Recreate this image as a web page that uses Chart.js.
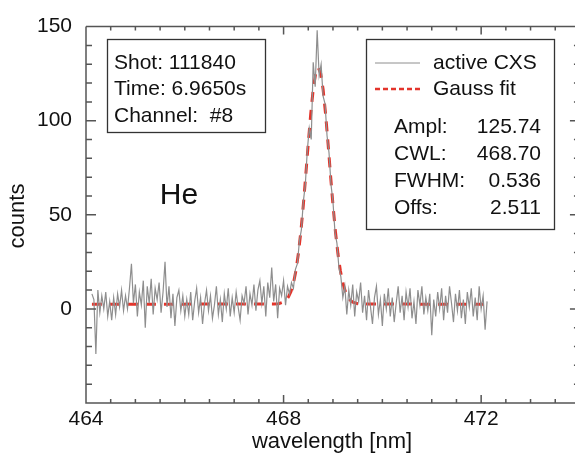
<!DOCTYPE html>
<html>
<head>
<meta charset="utf-8">
<script src="https://cdn.jsdelivr.net/npm/chart.js@4.4.1/dist/chart.umd.min.js"></script>
<style>
  html, body { margin: 0; padding: 0; background: #fff; }
  #plot { display: block; }
</style>
</head>
<body>
<canvas id="plot" width="575" height="454"></canvas>
<script>
// measured spectrum (wavelength in nm, counts)
const wavelength = [
  464.12, 464.16, 464.20, 464.24, 464.28, 464.32, 464.36, 464.40, 464.44, 464.48,
  464.52, 464.56, 464.60, 464.64, 464.68, 464.72, 464.76, 464.80, 464.84, 464.88,
  464.92, 464.96, 465.00, 465.04, 465.08, 465.12, 465.16, 465.20, 465.24, 465.28,
  465.32, 465.36, 465.40, 465.44, 465.48, 465.52, 465.56, 465.60, 465.64, 465.68,
  465.72, 465.76, 465.80, 465.84, 465.88, 465.92, 465.96, 466.00, 466.04, 466.08,
  466.12, 466.16, 466.20, 466.24, 466.28, 466.32, 466.36, 466.40, 466.44, 466.48,
  466.52, 466.56, 466.60, 466.64, 466.68, 466.72, 466.76, 466.80, 466.84, 466.88,
  466.92, 466.96, 467.00, 467.04, 467.08, 467.12, 467.16, 467.20, 467.24, 467.28,
  467.32, 467.36, 467.40, 467.44, 467.48, 467.52, 467.56, 467.60, 467.64, 467.68,
  467.72, 467.76, 467.80, 467.84, 467.88, 467.92, 467.96, 468.00, 468.04, 468.08,
  468.12, 468.16, 468.20, 468.24, 468.28, 468.32, 468.36, 468.40, 468.44, 468.48,
  468.52, 468.56, 468.60, 468.64, 468.68, 468.72, 468.76, 468.80, 468.84, 468.88,
  468.92, 468.96, 469.00, 469.04, 469.08, 469.12, 469.16, 469.20, 469.24, 469.28,
  469.32, 469.36, 469.40, 469.44, 469.48, 469.52, 469.56, 469.60, 469.64, 469.68,
  469.72, 469.76, 469.80, 469.84, 469.88, 469.92, 469.96, 470.00, 470.04, 470.08,
  470.12, 470.16, 470.20, 470.24, 470.28, 470.32, 470.36, 470.40, 470.44, 470.48,
  470.52, 470.56, 470.60, 470.64, 470.68, 470.72, 470.76, 470.80, 470.84, 470.88,
  470.92, 470.96, 471.00, 471.04, 471.08, 471.12, 471.16, 471.20, 471.24, 471.28,
  471.32, 471.36, 471.40, 471.44, 471.48, 471.52, 471.56, 471.60, 471.64, 471.68,
  471.72, 471.76, 471.80, 471.84, 471.88, 471.92, 471.96, 472.00, 472.04, 472.08,
  472.12
];
const counts = [
  8, 5, -24, 10, -2, 7, 0, 9, -4, 4,
  -6, 6, -3, 8, 1, 10, -1, 7, 0, 11,
  24, 3, 13, -4, 9, 2, 15, -10, 12, 3,
  16, -3, 11, 5, 14, -2, 9, 25, 1, 12,
  -5, 8, -9, 6, 10, -1, 7, -4, 5, -3,
  9, -6, 4, 11, -2, 6, -8, 3, 10, -1,
  7, -5, 2, 12, -3, 5, -7, 8, 0, 11,
  -4, 6, -2, 9, 1, -6, 7, 3, 12, -3,
  8, 2, 13, -1, 10, 15, 3, 12, -4, 14,
  6, 22, 4, 13, -5, 11, 7, 15, 2, 12,
  8, 14, 11, 21, 24, 36, 42, 57, 66, 84,
  96, 90, 131, 118, 148, 124, 130, 113, 109, 92,
  83, 66, 57, 41, 35, 22, 17, 6, 12, -3,
  10, 2, 13, -4, 9, 4, 14, -2, 7, -6,
  10, 1, -8, 6, 12, -3, 5, -9, 8, 0,
  11, -4, 6, -7, 3, 12, -2, 7, -6, 9,
  1, 11, -5, 4, -8, 10, 2, 12, -3, 6,
  -1, 8, -14, 5, -4, 9, 0, 11, -6, 7,
  -2, 12, 3, -7, 8, -1, 10, -5, 5, -8,
  9, 1, 11, -4, 6, -6, 12, 0, 7, -11,
  4
];

// gauss fit curve
const fitWavelength = [
  464.12, 467.80, 467.90, 468.00, 468.05, 468.10, 468.15, 468.20, 468.25, 468.30,
  468.35, 468.40, 468.45, 468.50, 468.55, 468.60, 468.65, 468.70, 468.75, 468.80,
  468.85, 468.90, 468.95, 469.00, 469.05, 469.10, 469.15, 469.20, 469.25, 469.30,
  469.35, 469.40, 469.50, 469.60, 472.12
];
const fitCounts = [
  2.51, 2.56, 2.77, 3.62, 4.64, 6.4, 9.3, 13.76, 20.3, 29.4,
  41.1, 55.2, 71.3, 88.0, 103.7, 116.7, 125.2, 128.25, 125.2, 116.7,
  103.7, 88.0, 71.3, 55.2, 41.1, 29.4, 20.3, 13.76, 9.3, 6.4,
  4.64, 3.62, 2.77, 2.56, 2.51
];

const xTicks = [464, 468, 472];
const yTicks = [0, 50, 100, 150];

const infoLines = ["Shot: 111840", "Time: 6.9650s", "Channel:  #8"];
const fitLabels = ["Ampl:", "CWL:", "FWHM:", "Offs:"];
const fitValues = ["125.74", "468.70", "0.536", "2.511"];

const FONT = '"Liberation Sans", Arial, Helvetica, sans-serif';
const AXIS_COLOR = '#555';
const DATA_GRAY = '#8e8e8e';
const FIT_RED = '#e3342b';

function toPoints(xs, ys) {
    return xs.map((x, i) => ({ x: x, y: ys[i] }));
}

// frame with inward major/minor ticks on all sides
const framePlugin = {
    id: 'frame',
    afterDatasetsDraw(chart) {
        const ctx = chart.ctx;
        const a = chart.chartArea;
        const xs = chart.scales.x;
        const ys = chart.scales.y;
        const right = xs.getPixelForValue(474);
        ctx.save();
        ctx.strokeStyle = AXIS_COLOR;
        ctx.lineWidth = 1.5;
        ctx.beginPath();
        ctx.moveTo(a.left, a.top);
        ctx.lineTo(a.left, a.bottom);
        ctx.lineTo(right, a.bottom);
        ctx.moveTo(a.left, a.top);
        ctx.lineTo(right, a.top);
        for (let v = 464; v <= 474.001; v += 0.5) {
            const px = xs.getPixelForValue(v);
            const len = (Math.abs(v % 4) < 0.001) ? 8 : 4;
            ctx.moveTo(px, a.bottom);
            ctx.lineTo(px, a.bottom - len);
            ctx.moveTo(px, a.top);
            ctx.lineTo(px, a.top + len);
        }
        for (let v = -50; v <= 150; v += 10) {
            const py = ys.getPixelForValue(v);
            const len = (v % 50 === 0) ? 10 : 6;
            ctx.moveTo(a.left, py);
            ctx.lineTo(a.left + len, py);
            ctx.moveTo(right, py);
            ctx.lineTo(right - len, py);
        }
        ctx.stroke();
        ctx.restore();
    }
};

// text boxes, legend and axis titles
const annotationPlugin = {
    id: 'annotations',
    afterDraw(chart) {
        const ctx = chart.ctx;
        ctx.save();
        ctx.fillStyle = '#111';
        ctx.strokeStyle = '#333';
        ctx.lineWidth = 1.3;
        ctx.font = '21px ' + FONT;
        ctx.textBaseline = 'middle';

        // shot info box
        ctx.strokeRect(107.5, 39.5, 158, 93);
        ctx.textAlign = 'left';
        infoLines.forEach((t, i) => ctx.fillText(t, 114, 63 + i * 26.5));

        // legend + fit parameters
        ctx.strokeRect(366.5, 39.5, 188, 190);
        ctx.beginPath();
        ctx.strokeStyle = DATA_GRAY;
        ctx.lineWidth = 1;
        ctx.moveTo(375, 63);
        ctx.lineTo(420, 63);
        ctx.stroke();
        ctx.beginPath();
        ctx.strokeStyle = FIT_RED;
        ctx.lineWidth = 2.5;
        ctx.setLineDash([5, 3]);
        ctx.moveTo(375, 89);
        ctx.lineTo(420, 89);
        ctx.stroke();
        ctx.setLineDash([]);
        ctx.fillText('active CXS', 433, 63);
        ctx.fillText('Gauss fit', 433, 89);
        fitLabels.forEach((t, i) => {
            ctx.textAlign = 'left';
            ctx.fillText(t, 394, 127 + i * 27);
            ctx.textAlign = 'right';
            ctx.fillText(fitValues[i], 541, 127 + i * 27);
        });

        // species label
        ctx.textAlign = 'center';
        ctx.font = '30px ' + FONT;
        ctx.fillText('He', 179, 196);

        // axis titles
        ctx.font = '22px ' + FONT;
        ctx.fillText('wavelength [nm]', 332, 442);
        ctx.translate(18, 216);
        ctx.rotate(-Math.PI / 2);
        ctx.fillText('counts', 0, 0);
        ctx.restore();
    }
};

function initializeChart() {
    const ctx = document.getElementById('plot').getContext('2d');
    new Chart(ctx, {
        type: 'line',
        data: {
            datasets: [{
                label: 'active CXS',
                data: toPoints(wavelength, counts),
                borderColor: DATA_GRAY,
                borderWidth: 1.2,
                pointRadius: 0,
                tension: 0
            }, {
                label: 'Gauss fit',
                data: toPoints(fitWavelength, fitCounts),
                borderColor: FIT_RED,
                borderWidth: 3,
                borderDash: [10, 8],
                pointRadius: 0,
                tension: 0
            }]
        },
        options: {
            responsive: false,
            animation: false,
            layout: { padding: { top: 14, right: 0, left: 0, bottom: 0 } },
            plugins: { legend: { display: false }, tooltip: { enabled: false } },
            scales: {
                x: {
                    type: 'linear',
                    min: 464,
                    max: 473.9,
                    grid: { display: false, drawTicks: false },
                    border: { display: false },
                    afterBuildTicks: s => { s.ticks = xTicks.map(v => ({ value: v })); },
                    afterFit: s => { s.height = 51; },
                    ticks: {
                        font: { size: 21, family: FONT },
                        color: '#111',
                        padding: 4,
                        maxRotation: 0
                    }
                },
                y: {
                    min: -50,
                    max: 150,
                    grid: { display: false, drawTicks: false },
                    border: { display: false },
                    afterBuildTicks: s => { s.ticks = yTicks.map(v => ({ value: v })); },
                    afterFit: s => { s.width = 86; },
                    ticks: {
                        font: { size: 21, family: FONT },
                        color: '#111',
                        padding: 14
                    }
                }
            }
        },
        plugins: [framePlugin, annotationPlugin]
    });
}

document.addEventListener('DOMContentLoaded', initializeChart);
</script>
</body>
</html>
